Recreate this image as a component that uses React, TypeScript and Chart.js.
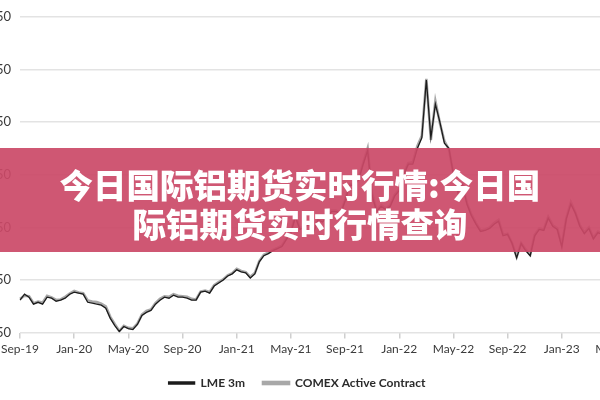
import React, { useEffect, useRef } from "react";
import { Chart, registerables } from "chart.js";

Chart.register(...registerables);

const MONTHS = ["Jan", "Feb", "Mar", "Apr", "May", "Jun", "Jul", "Aug", "Sep", "Oct", "Nov", "Dec"];
const DAYS = ["01", "11", "21"];

// categories: 1st, 11th and 21st of each month, Sep-2019 .. May-2023
const CATEGORIES: string[] = [];
for (let m = 8; m <= 12 * 4 + 4; m++) {
  const month = MONTHS[m % 12];
  const yy = String(19 + Math.floor(m / 12)).padStart(2, "0");
  for (const d of DAYS) CATEGORIES.push(`${d} ${month}-${yy}`);
}

const TICK_LABELS = [
  "Sep-19", "Jan-20", "May-20", "Sep-20", "Jan-21", "May-21",
  "Sep-21", "Jan-22", "May-22", "Sep-22", "Jan-23", "May-23",
];

const LME_3M = [
  1758, 1815, 1787, 1720, 1738, 1720, 1787, 1777, 1748, 1758, 1777, 1815,
  1835, 1825, 1815, 1738, 1729, 1720, 1710, 1681, 1585, 1517, 1460, 1508,
  1488, 1479, 1527, 1613, 1642, 1661, 1720, 1758, 1787, 1777, 1806, 1787,
  1787, 1777, 1758, 1758, 1835, 1844, 1825, 1892, 1921, 1950, 1988, 2008,
  2046, 2027, 2017, 1969, 2008, 2123, 2181, 2200, 2229, 2248, 2267, 2335,
  2402, 2550, 2430, 2450, 2480, 2400, 2520, 2500, 2550, 2600, 2600, 2580,
  2700, 2850, 2850, 2900, 3050, 3180, 2750, 2600, 2650, 2620, 2650, 2750,
  2800, 2950, 3050, 3050, 3200, 3300, 3850, 3300, 3620, 3450, 3250, 3200,
  2950, 2780, 2850, 2670, 2560, 2480, 2411, 2420, 2440, 2480, 2508, 2370,
  2383, 2296, 2160, 2296, 2230, 2180, 2370, 2430, 2420, 2537, 2460, 2430,
  2267, 2530, 2671, 2585, 2460, 2390, 2440, 2340, 2400, 2380, 2350, 2330, 2350, 2280, 2270,
];

const COMEX_ACTIVE = [
  1770, 1800, 1795, 1730, 1745, 1735, 1800, 1785, 1760, 1765, 1790, 1820,
  1845, 1830, 1825, 1755, 1745, 1740, 1725, 1700, 1600, 1530, 1465, 1515,
  1495, 1490, 1535, 1620, 1655, 1670, 1730, 1770, 1795, 1790, 1815, 1800,
  1795, 1790, 1770, 1765, 1840, 1850, 1835, 1900, 1930, 1955, 1995, 2015,
  2055, 2035, 2025, 1980, 2015, 2130, 2190, 2210, 2235, 2255, 2275, 2345,
  2410, 2560, 2440, 2460, 2490, 2410, 2530, 2510, 2560, 2610, 2610, 2590,
  2710, 2860, 2860, 2910, 3060, 3200, 2770, 2610, 2660, 2630, 2660, 2760,
  2810, 2960, 3060, 3070, 3220, 3320, 3860, 3280, 3650, 3440, 3270, 3190,
  2960, 2790, 2860, 2680, 2570, 2490, 2420, 2430, 2450, 2490, 2520, 2380,
  2390, 2300, 2170, 2300, 2240, 2190, 2380, 2440, 2430, 2550, 2470, 2440,
  2280, 2540, 2690, 2590, 2470, 2400, 2450, 2350, 2410, 2390, 2360, 2340, 2360, 2290, 2280,
];

const SERIES_NAMES = ["LME 3m", "COMEX Active Contract"];
const BANNER_LINES = ["今日国际铝期货实时行情:今日国", "际铝期货实时行情查询"];

const FONT = "Lato, 'Noto Sans', sans-serif";

export default function App() {
  const ref = useRef<HTMLCanvasElement | null>(null);

  useEffect(() => {
    if (!ref.current) return;
    const chart = new Chart(ref.current, {
      type: "line",
      data: {
        labels: CATEGORIES,
        datasets: [
          {
            label: SERIES_NAMES[0],
            data: LME_3M,
            borderColor: "#1c1c1c",
            backgroundColor: "#1c1c1c",
            borderWidth: 1.3,
            pointRadius: 0,
            tension: 0,
          },
          {
            label: SERIES_NAMES[1],
            data: COMEX_ACTIVE,
            borderColor: "#a8a8a8",
            backgroundColor: "#a8a8a8",
            borderWidth: 2.6,
            pointRadius: 0,
            tension: 0,
          },
        ],
      },
      options: {
        responsive: false,
        animation: false,
        devicePixelRatio: 1,
        layout: { padding: { top: 9, right: 40, bottom: 1, left: 29 } },
        plugins: {
          tooltip: { enabled: false },
          legend: {
            position: "bottom",
            align: "center",
            labels: {
              boxWidth: 26,
              boxHeight: 2,
              padding: 18,
              color: "#2b2b2b",
              font: { family: FONT, size: 12, weight: "bold" },
            },
          },
        },
        scales: {
          x: {
            type: "category",
            offset: false,
            border: { display: false },
            grid: {
              display: true,
              drawOnChartArea: false,
              drawTicks: true,
              tickLength: 6,
              color: "#cfcfcf",
              lineWidth: 1.5,
            },
            ticks: {
              autoSkip: false,
              maxRotation: 0,
              minRotation: 0,
              padding: 3,
              color: "#3a3a3a",
              font: { family: FONT, size: 12 },
              callback: function (this: any, value: any) {
                const lab: string = this.getLabelForValue(value);
                if (!lab.startsWith("01 ")) return null;
                const t = lab.slice(3);
                return TICK_LABELS.includes(t) ? t : null;
              },
            },
          },
          y: {
            min: 1450,
            max: 4450,
            border: { display: false },
            afterFit: (s: any) => {
              s.width = 51;
            },
            grid: { color: "#e3e3e3", lineWidth: 1.5, drawTicks: false },
            ticks: {
              stepSize: 500,
              padding: 9,
              color: "#3a3a3a",
              font: { family: FONT, size: 13 },
              callback: (v: any) => String(v),
            },
          },
        },
      },
    });
    return () => chart.destroy();
  }, []);

  return (
    <div
      style={{
        position: "fixed",
        left: 0,
        top: 0,
        width: 600,
        height: 400,
        overflow: "hidden",
        background: "#ffffff",
      }}
    >
      <canvas
        ref={ref}
        width={725}
        height={400}
        style={{ position: "absolute", left: -60, top: 0, width: 725, height: 400 }}
      />
      <div
        style={{
          position: "absolute",
          left: 0,
          top: 148,
          width: 600,
          height: 104,
          background: "rgba(203, 73, 103, 0.92)",
          display: "flex",
          flexDirection: "column",
          alignItems: "center",
          justifyContent: "center",
          paddingTop: 5,
          boxSizing: "border-box",
          color: "#ffffff",
          fontFamily: "'Noto Sans CJK SC', sans-serif",
          fontWeight: 900,
          fontSize: 33.5,
          lineHeight: "39px",
          whiteSpace: "nowrap",
        }}
      >
        {BANNER_LINES.map((l) => (
          <div key={l}>{l}</div>
        ))}
      </div>
    </div>
  );
}
